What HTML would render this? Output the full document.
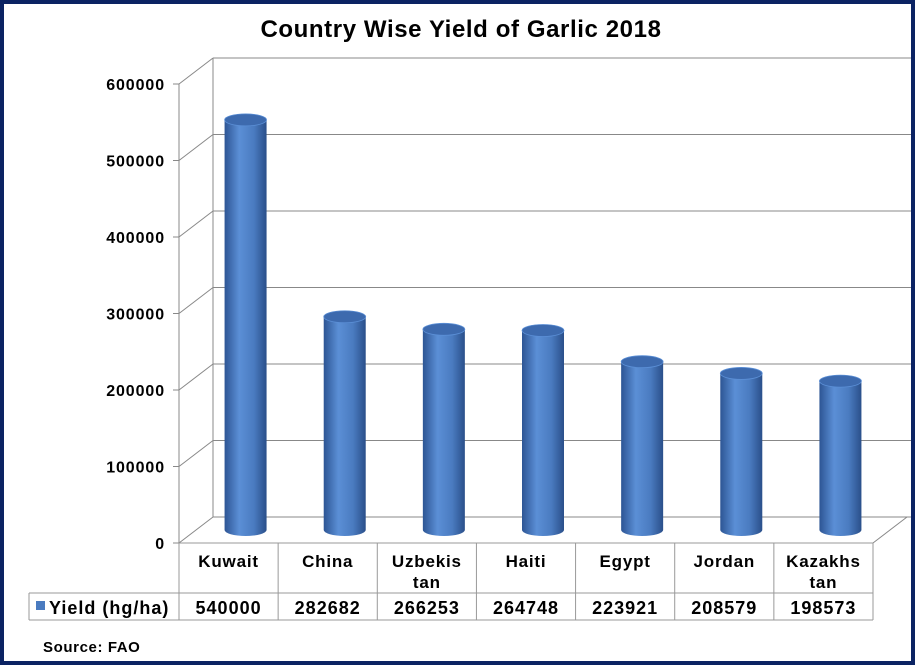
<!DOCTYPE html>
<html><head><meta charset="utf-8"><style>
body{margin:0;background:#fff}
svg text{font-family:"Liberation Sans","DejaVu Sans",sans-serif;font-weight:bold;fill:#000}
</style></head><body>
<svg width="915" height="665" xmlns="http://www.w3.org/2000/svg">
<defs>
<linearGradient id="cyl" x1="0" x2="1" y1="0" y2="0">
<stop offset="0" stop-color="#2d5594"/><stop offset="0.35" stop-color="#5b8fd6"/><stop offset="0.7" stop-color="#4a7bc0"/><stop offset="1" stop-color="#2a4f8a"/>
</linearGradient>
</defs>
<rect x="2" y="2" width="911" height="661" fill="#fff" stroke="#0b2363" stroke-width="4"/>
<text x="461" y="37" text-anchor="middle" font-size="24" letter-spacing="0.6">Country Wise Yield of Garlic 2018</text>
<g id="grid"></g>
<g id="bars"></g>
<g id="table"></g>
<text x="43" y="652" font-size="15" letter-spacing="0.6">Source: FAO</text>
</svg>
<script>
const categories=["Kuwait","China","Uzbekis|tan","Haiti","Egypt","Jordan","Kazakhs|tan"];
const values=[540000,282682,266253,264748,223921,208579,198573];
const yTicks=[0,100000,200000,300000,400000,500000,600000];
const seriesName="Yield (hg/ha)";
const NS="http://www.w3.org/2000/svg";
function mk(t,a,p){const e=document.createElementNS(NS,t);for(const k in a)e.setAttribute(k,a[k]);p.appendChild(e);return e;}
const x0=179,x1=873,y0=543,ppu=76.5/100000,dx=34,dy=-26;
const yS=v=>y0-v*ppu;
const colW=(x1-x0)/categories.length;
const g=document.getElementById('grid'),b=document.getElementById('bars'),tb=document.getElementById('table');
mk('line',{x1:x0+dx,y1:yS(600000)+dy,x2:x0+dx,y2:y0+dy,stroke:'#888'},g);
mk('line',{x1:x0,y1:yS(600000),x2:x0,y2:y0,stroke:'#888'},g);
yTicks.forEach(v=>{
 const y=yS(v);
 const l1=mk('line',{x1:x0,y1:y,x2:x0+dx,y2:y+dy,stroke:'#888'},g);
 
 const l2=mk('line',{x1:x0+dx,y1:y+dy,x2:x1+dx+4,y2:y+dy,stroke:'#888'},g);
 
 mk('line',{x1:x0-6,y1:y,x2:x0,y2:y,stroke:'#888'},g);
 const t=mk('text',{x:165,y:y+6,'text-anchor':'end','font-size':16,'letter-spacing':0.9},g);t.textContent=v;
 
});
mk('line',{x1:x1,y1:y0,x2:x1+dx,y2:y0+dy,stroke:'#888'},g);
values.forEach((v,i)=>{
 const cx=x0+colW*(i+0.5)+17, top=yS(v)-10, bot=y0-13, r=21, ry=6;
 const p=mk('path',{d:`M${cx-r},${top} L${cx-r},${bot} A${r},${ry} 0 0 0 ${cx+r},${bot} L${cx+r},${top} Z`,fill:'url(#cyl)'},b);
 
 const e=mk('ellipse',{cx:cx,cy:top,rx:r,ry:ry,fill:'#3d6aae',stroke:'#5b8fd6','stroke-width':0.8},b);
 
});
const r1=543,r2=593,r3=620,lx=29;
mk('line',{x1:x0,y1:r1,x2:x1,y2:r1,stroke:'#999'},tb);
mk('line',{x1:lx,y1:r2,x2:x1,y2:r2,stroke:'#999'},tb);
mk('line',{x1:lx,y1:r3,x2:x1,y2:r3,stroke:'#999'},tb);
mk('line',{x1:lx,y1:r2,x2:lx,y2:r3,stroke:'#999'},tb);
for(let i=0;i<=categories.length;i++){const x=x0+colW*i;mk('line',{x1:x,y1:r1,x2:x,y2:r3,stroke:'#999'},tb);}
categories.forEach((c,i)=>{
 const cx=x0+colW*(i+0.5);const parts=c.split('|');
 parts.forEach((s,j)=>{const t=mk('text',{x:cx,y:567+j*21,'text-anchor':'middle','font-size':17,'letter-spacing':0.8},tb);t.textContent=s;
  });
 const t=mk('text',{x:cx,y:614,'text-anchor':'middle','font-size':18,'letter-spacing':1},tb);t.textContent=values[i];
 
});
const sw=mk('rect',{x:36,y:601,width:9,height:9,fill:'#4a7bc0'},tb);

const lt=mk('text',{x:49,y:614,'font-size':18,'letter-spacing':1},tb);lt.textContent=seriesName;

</script>
</body></html>
